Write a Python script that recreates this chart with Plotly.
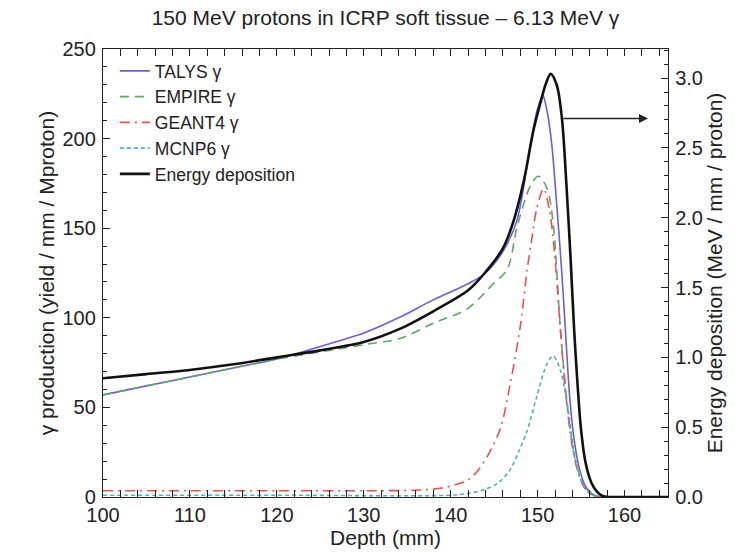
import plotly.graph_objects as go

# ---------------- data ----------------
talys_x = [100, 105, 110, 115, 120, 125, 130, 134, 138, 142, 144, 146, 147.6, 148.8, 149.9, 150.6,
           151.1, 151.6, 152.2, 152.8, 153.3, 153.7, 154.2, 154.8, 155.5, 156.2, 156.8, 157.5, 160, 165]
talys_y = [57, 62, 67, 72, 77, 84, 91.5, 100, 110, 119, 125, 137, 154, 185, 215, 224,
           215, 198, 163, 124, 85, 55, 32, 16, 6, 2, 0.5, 0, 0, 0]

empire_x = [100, 105, 110, 115, 120, 125, 130, 134.2, 138, 141.9, 144.9, 146.5, 147.6, 148.5, 149.3,
            150.1, 151.1, 151.8, 152.6, 153.4, 154.1, 154.7, 155.3, 156, 156.6, 157.3, 160, 165]
empire_y = [57, 62, 67, 72, 77, 81, 85, 88.5, 97, 105, 119, 127, 150, 165, 175,
            179, 172, 152, 95, 52, 26, 14, 6, 2, 0.5, 0, 0, 0]

geant4_x = [100, 110, 120, 130, 136, 139, 141, 142, 143, 144.2, 145.7, 146.8, 148, 148.8, 149.3,
            149.9, 150.7, 151.4, 152, 152.8, 153.4, 154.1, 154.7, 155.3, 156, 156.6, 157.3, 160, 165]
geant4_y = [3.5, 3.5, 3.5, 3.5, 3.8, 5, 7.5, 9.5, 14, 22.5, 38, 62, 95, 127, 143,
            161, 172, 159, 133, 82, 50, 25, 13, 6, 2, 0.5, 0, 0, 0]

mcnp6_x = [100, 120, 140, 142, 143.8, 145.5, 146.8, 147.8, 148.8, 149.9, 151.1, 151.8, 152.6, 153.4,
           154.1, 154.7, 155.3, 156, 156.6, 157.3, 160, 165]
mcnp6_y = [1, 1, 1, 2, 4, 8, 15, 25, 37, 56, 74.6, 78.7, 71, 52,
           28, 14, 6, 2, 0.5, 0, 0, 0]

edep_x = [100, 105, 110, 115, 120, 125, 130, 134, 138, 142, 144, 146, 147.2, 148.4, 149.5, 150.4, 150.9,
          151.5, 152.2, 152.8, 153.3, 153.8, 154.2, 154.6, 155.0, 155.5, 156.2, 156.8, 157.4, 158.2, 160, 165]
edep_y = [0.85, 0.88, 0.91, 0.95, 1.00, 1.05, 1.11, 1.20, 1.33, 1.48, 1.61, 1.78, 1.97, 2.26, 2.62, 2.84, 2.95,
          3.03, 2.95, 2.71, 2.25, 1.70, 1.20, 0.80, 0.48, 0.25, 0.10, 0.04, 0.01, 0, 0, 0]

# arrow pointing to the right axis (data coordinates)
arrow_from = (152.8, 2.71)
arrow_to = (162.7, 2.71)

x_ticks = [100, 110, 120, 130, 140, 150, 160]
y_ticks = [0, 50, 100, 150, 200, 250]
y2_ticks = [0.0, 0.5, 1.0, 1.5, 2.0, 2.5, 3.0]
y2_labels = ["0.0", "0.5", "1.0", "1.5", "2.0", "2.5", "3.0"]

FONT = "Liberation Sans, Arial, sans-serif"
INK = "#222222"

fig = go.Figure()
common = dict(mode="lines", line_shape="spline")
fig.add_trace(go.Scatter(x=talys_x, y=talys_y, name="TALYS γ", legendgroup="a",
                         line=dict(color="#6a5ee0", width=1.6, smoothing=0.9), **common))
fig.add_trace(go.Scatter(x=empire_x, y=empire_y, name="EMPIRE γ", legendgroup="b",
                         line=dict(color="#5fa860", width=1.6, dash="9px,6px", smoothing=0.9), **common))
fig.add_trace(go.Scatter(x=geant4_x, y=geant4_y, name="GEANT4 γ", legendgroup="c",
                         line=dict(color="#ee5050", width=1.6, dash="10px,5px,2px,5px", smoothing=0.9), **common))
fig.add_trace(go.Scatter(x=mcnp6_x, y=mcnp6_y, name="MCNP6 γ", legendgroup="d",
                         line=dict(color="#4fb3b8", width=1.6, dash="4px,3px", smoothing=0.9), **common))
fig.add_trace(go.Scatter(x=edep_x, y=edep_y, name="Energy deposition", legendgroup="e", yaxis="y2",
                         line=dict(color="#111111", width=2.6, smoothing=0.9), **common))

fig.add_annotation(x=arrow_to[0], y=arrow_to[1], xref="x", yref="y2",
                   ax=arrow_from[0], ay=arrow_from[1], axref="x", ayref="y2",
                   text="", showarrow=True, arrowhead=2, arrowsize=1.2, arrowwidth=1.5,
                   arrowcolor=INK)

axis_common = dict(showline=True, linecolor=INK, linewidth=1.3, ticks="inside",
                   tickcolor=INK, ticklen=7, tickwidth=1.2, showgrid=False, zeroline=False,
                   tickfont=dict(family=FONT, size=20, color=INK))

fig.update_layout(
    width=735, height=553,
    margin=dict(l=103, r=67, t=49, b=56),
    paper_bgcolor="white", plot_bgcolor="white",
    title=dict(text="150 MeV protons in ICRP soft tissue – 6.13 MeV γ",
               x=(103 + 668) / 2 / 735, xanchor="center", y=1 - 18 / 553, yanchor="middle",
               font=dict(family=FONT, size=21, color=INK)),
    xaxis=dict(range=[100, 165], tickvals=x_ticks, mirror="allticks",
               title=dict(text="Depth (mm)", font=dict(family=FONT, size=21, color=INK), standoff=0),
               minor=dict(dtick=2, ticks="inside", ticklen=4, tickcolor=INK),
               ticklabelstandoff=0,
               **axis_common),
    yaxis=dict(range=[0, 250], tickvals=y_ticks,
               title=dict(text="γ production (yield / mm / Mproton)",
                          font=dict(family=FONT, size=21, color=INK), standoff=2),
               minor=dict(dtick=10, ticks="inside", ticklen=4, tickcolor=INK),
               ticklabelstandoff=2,
               **axis_common),
    yaxis2=dict(range=[0, 3.208], tickvals=y2_ticks, ticktext=y2_labels, overlaying="y", side="right",
                title=dict(text="Energy deposition (MeV / mm / proton)",
                           font=dict(family=FONT, size=21, color=INK), standoff=2),
                minor=dict(dtick=0.1, ticks="inside", ticklen=4, tickcolor=INK),
                ticklabelstandoff=2,
                **axis_common),
    legend=dict(x=0.021, y=0.991, xanchor="left", yanchor="top", bgcolor="rgba(0,0,0,0)",
                font=dict(family=FONT, size=17.5, color=INK), tracegroupgap=0,
                itemwidth=30),
    showlegend=True,
)

fig.write_html("out.html")
